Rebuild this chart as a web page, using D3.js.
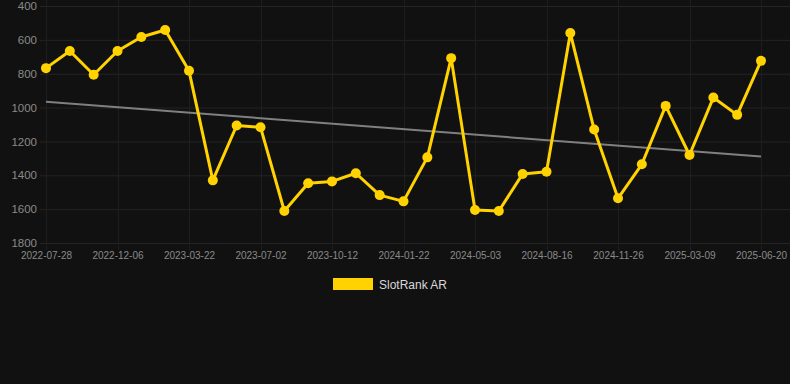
<!DOCTYPE html>
<html>
<head>
<meta charset="utf-8">
<script src="https://cdn.jsdelivr.net/npm/d3@7"></script>
<style>
  html, body { margin: 0; padding: 0; background: #111111; }
  svg { display: block; font-family: "Liberation Sans", Arial, sans-serif; }
</style>
</head>
<body>
<svg width="790" height="384"></svg>
<script>
// dates of each rank sample (in-between ones are estimated)
const dates = [
    "2022-07-28", "2022-09-10", "2022-10-23", "2022-12-06", "2023-01-10", "2023-02-14",
    "2023-03-22", "2023-04-25", "2023-05-29", "2023-07-02", "2023-08-05", "2023-09-08",
    "2023-10-12", "2023-11-15", "2023-12-19", "2024-01-22", "2024-02-25", "2024-03-30",
    "2024-05-03", "2024-06-07", "2024-07-12", "2024-08-16", "2024-09-19", "2024-10-23",
    "2024-11-26", "2024-12-30", "2025-02-03", "2025-03-09", "2025-04-12", "2025-05-16",
    "2025-06-20"
];
const ranks = [
    767, 666, 806, 666, 583, 542, 783, 1430, 1106, 1116, 1611, 1447, 1436, 1388, 1517, 1554,
    1294, 708, 1605, 1611, 1392, 1379, 560, 1130, 1536, 1335, 990, 1280, 941, 1043, 724
];
const xTickLabels = [
    "2022-07-28", "2022-12-06", "2023-03-22", "2023-07-02", "2023-10-12", "2024-01-22",
    "2024-05-03", "2024-08-16", "2024-11-26", "2025-03-09", "2025-06-20"
];
const yTicks = [400, 600, 800, 1000, 1200, 1400, 1600, 1800];
const seriesName = "SlotRank AR";

const svg = d3.select("svg");

const x = d3.scalePoint()
    .domain(dates)
    .range([46, 761]);

const y = d3.scaleLinear()
    .domain([400, 1800])
    .range([6, 243]);

// grid
const grid = svg.append("g").attr("class", "grid");
grid.selectAll("line.h")
    .data(yTicks)
    .enter()
    .append("line")
    .attr("class", "h")
    .attr("x1", 40)
    .attr("x2", 790)
    .attr("y1", d => y(d) + 0.5)
    .attr("y2", d => y(d) + 0.5)
    .attr("stroke", "#242424");
grid.selectAll("line.v")
    .data(xTickLabels)
    .enter()
    .append("line")
    .attr("class", "v")
    .attr("x1", d => Math.round(x(d)) + 0.5)
    .attr("x2", d => Math.round(x(d)) + 0.5)
    .attr("y1", 0)
    .attr("y2", 250)
    .attr("stroke", "#1e1e1e");

// axes
const yAxis = svg.append("g")
    .attr("transform", "translate(37,0)")
    .call(d3.axisLeft(y).tickValues(yTicks).tickSize(0).tickPadding(0).tickFormat(d3.format("d")));
yAxis.select(".domain").remove();
yAxis.selectAll("text")
    .attr("fill", "#8a8a8a")
    .attr("font-size", 11.5);

const xAxis = svg.append("g")
    .attr("transform", "translate(0,252)")
    .call(d3.axisBottom(x).tickValues(xTickLabels).tickSize(0).tickPadding(0));
xAxis.select(".domain").remove();
xAxis.selectAll("text")
    .attr("fill", "#8a8a8a")
    .attr("font-size", 10);

// trend line (least squares over sample index)
const n = ranks.length;
const meanI = d3.mean(ranks, (d, i) => i);
const meanV = d3.mean(ranks);
const slope = d3.sum(ranks, (d, i) => (i - meanI) * (d - meanV)) /
    d3.sum(ranks, (d, i) => (i - meanI) * (i - meanI));
const trend = [0, n - 1].map(i => ({ date: dates[i], v: meanV + slope * (i - meanI) }));

svg.append("path")
    .datum(trend)
    .attr("fill", "none")
    .attr("stroke", "#808080")
    .attr("stroke-width", 2)
    .attr("d", d3.line().x(d => x(d.date)).y(d => y(d.v)));

// series
const points = dates.map((d, i) => ({ date: d, v: ranks[i] }));

svg.append("path")
    .datum(points)
    .attr("fill", "none")
    .attr("stroke", "#ffd200")
    .attr("stroke-width", 3)
    .attr("stroke-linejoin", "round")
    .attr("d", d3.line().x(d => x(d.date)).y(d => y(d.v)));

svg.append("g")
    .selectAll("circle")
    .data(points)
    .enter()
    .append("circle")
    .attr("cx", d => x(d.date))
    .attr("cy", d => y(d.v))
    .attr("r", 5)
    .attr("fill", "#ffd200");

// legend
const legend = svg.append("g").attr("transform", "translate(333,278)");
legend.append("rect")
    .attr("width", 40)
    .attr("height", 12)
    .attr("fill", "#ffd200");
legend.append("text")
    .attr("x", 46)
    .attr("y", 10.5)
    .attr("fill", "#d8d8d8")
    .attr("font-size", 12)
    .text(seriesName);
</script>
</body>
</html>
